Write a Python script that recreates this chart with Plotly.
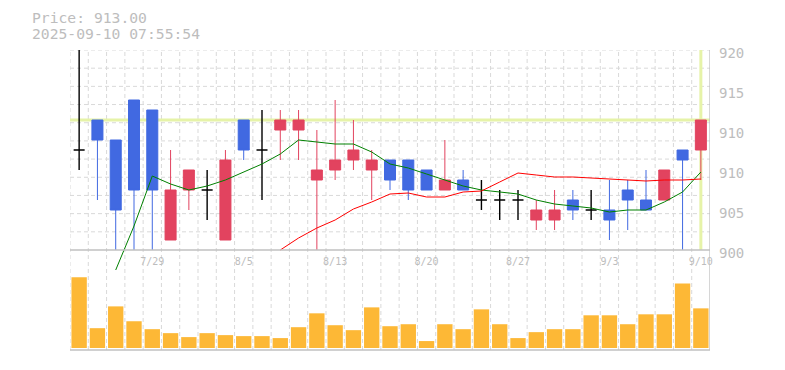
import plotly.graph_objects as go

# ---------------- data ----------------
dates = ["7/23", "7/24", "7/25", "7/28", "7/29", "7/30", "7/31", "8/1", "8/4", "8/5",
         "8/6", "8/7", "8/8", "8/12", "8/13", "8/14", "8/15", "8/18", "8/19", "8/20",
         "8/21", "8/22", "8/25", "8/26", "8/27", "8/28", "8/29", "9/1", "9/2", "9/3",
         "9/4", "9/5", "9/8", "9/9", "9/10"]
open_ = [910, 913, 911, 915, 914, 901, 906, 906, 901, 913,
         910, 912, 912, 907, 908, 909, 908, 909, 909, 908,
         906, 907, 905, 905, 905, 903, 903, 905, 904, 904,
         906, 905, 905, 910, 910]
high = [920, 913, 911, 915, 914, 910, 908, 908, 910, 913,
        914, 914, 914, 912, 915, 913, 910, 909, 909, 908,
        911, 908, 907, 906, 906, 905, 906, 906, 906, 907,
        907, 908, 908, 910, 913]
low = [908, 905, 900, 900, 900, 901, 904, 903, 901, 909,
       905, 909, 909, 900, 907, 908, 905, 906, 905, 906,
       906, 906, 904, 903, 903, 902, 902, 903, 903, 901,
       902, 904, 905, 900, 907]
close = [910, 911, 904, 906, 906, 906, 908, 906, 909, 910,
         910, 913, 913, 908, 909, 910, 909, 907, 906, 906,
         907, 906, 905, 905, 905, 904, 904, 904, 904, 903,
         905, 904, 908, 909, 913]
ma_short = [None, None, 898.0, 902.4, 907.4, 906.6, 906.0, 906.4, 907.0, 907.8,
            908.6, 909.6, 911.0, 910.8, 910.6, 910.6, 909.8, 908.6, 908.2, 907.6,
            907.0, 906.4, 906.0, 905.8, 905.6, 905.0, 904.6, 904.4, 904.2, 903.8,
            904.0, 904.0, 904.8, 905.8, 907.8]
ma_long = [None, None, None, None, None, None, None, None, None, None,
           None, 900.0, 901.2, 902.2, 903.0, 904.1, 904.8, 905.6, 905.7, 905.3,
           905.3, 905.8, 905.9, 906.8, 907.7, 907.5, 907.3, 907.3, 907.2, 907.1,
           907.0, 906.9, 907.0, 907.0, 907.1]
volume = [214, 60, 126, 81, 57, 45, 33, 45, 39, 36,
          36, 30, 63, 105, 69, 54, 123, 66, 72, 21,
          72, 57, 117, 72, 30, 48, 57, 57, 99, 99,
          72, 102, 102, 195, 120]
ytick_vals = [920, 916, 912, 908, 904, 900]
ytick_text = ["920", "915", "910", "910", "905", "900"]
xtick_labels = ["7/29", "8/5", "8/13", "8/20", "8/27", "9/3", "9/10"]
last_price = 913.00
timestamp = "2025-09-10 07:55:54"

# ---------------- styles ----------------
UP = "#e2435f"
DOWN = "#4169e1"
VOL = "#fdb836"
GRID = "#d9d9d9"
AXIS = "#c0c0c0"
TXT = "#bdbdbd"
HILITE = "#e6f3a8"
FONT = "DejaVu Sans Mono"

P_MIN, P_MAX = 900, 920
P_LOW = 897.5           # room below the axis where the MA lines still show
N_HGRID = 11

idx = list(range(len(dates)))
doji = [i for i in idx if open_[i] == close[i]]
body = [i for i in idx if open_[i] != close[i]]


def pick(arr, ids):
    return [arr[i] for i in ids]


fig = go.Figure()
fig.add_trace(go.Candlestick(
    x=body, open=pick(open_, body), high=pick(high, body), low=pick(low, body), close=pick(close, body),
    increasing=dict(line=dict(color=UP, width=1), fillcolor=UP),
    decreasing=dict(line=dict(color=DOWN, width=1), fillcolor=DOWN),
    whiskerwidth=0, hoverinfo="skip", xaxis="x", yaxis="y"))
fig.add_trace(go.Candlestick(
    x=doji, open=pick(open_, doji), high=pick(high, doji), low=pick(low, doji), close=pick(close, doji),
    increasing=dict(line=dict(color="black", width=1.4), fillcolor="black"),
    decreasing=dict(line=dict(color="black", width=1.4), fillcolor="black"),
    whiskerwidth=0, hoverinfo="skip", xaxis="x", yaxis="y"))
fig.add_trace(go.Scatter(x=idx, y=ma_short, mode="lines", line=dict(color="#008000", width=1),
                         hoverinfo="skip", xaxis="x", yaxis="y"))
fig.add_trace(go.Scatter(x=idx, y=ma_long, mode="lines", line=dict(color="#ff0000", width=1),
                         hoverinfo="skip", xaxis="x", yaxis="y"))
fig.add_trace(go.Bar(x=idx, y=volume, marker=dict(color=VOL, line=dict(width=0)),
                     hoverinfo="skip", xaxis="x2", yaxis="y2"))

shapes = []
n = len(dates)
# horizontal dashed grid (price panel)
for j in range(1, N_HGRID + 1):
    yv = P_MIN + j * (P_MAX - P_MIN) / N_HGRID
    shapes.append(dict(type="line", xref="x", yref="y", x0=-0.5, x1=n - 0.5, y0=yv, y1=yv,
                       line=dict(color=GRID, width=1, dash="4px,3px"), layer="below"))
# vertical dashed grid at slot boundaries (both panels)
for k in range(n):
    shapes.append(dict(type="line", xref="x", yref="paper", x0=k - 0.5, x1=k - 0.5, y0=0, y1=1,
                       line=dict(color=GRID, width=1, dash="4px,3px"), layer="below"))
# highlight lines for last price / last bar
shapes.append(dict(type="line", xref="x", yref="y", x0=-0.5, x1=n - 0.5, y0=last_price, y1=last_price,
                   line=dict(color=HILITE, width=3), layer="below"))
shapes.append(dict(type="line", xref="x", yref="y", x0=n - 1, x1=n - 1, y0=P_MIN, y1=P_MAX,
                   line=dict(color=HILITE, width=3), layer="below"))
# solid axis lines
shapes.append(dict(type="line", xref="x", yref="y", x0=-0.5, x1=n - 0.5, y0=P_MIN, y1=P_MIN,
                   line=dict(color=AXIS, width=1.3)))
shapes.append(dict(type="line", xref="x", yref="paper", x0=-0.5, x1=n - 0.5, y0=0, y1=0,
                   line=dict(color=AXIS, width=1.3)))
shapes.append(dict(type="line", xref="x", yref="paper", x0=n - 0.5, x1=n - 0.5, y0=0, y1=1,
                   line=dict(color=AXIS, width=1.3)))

annotations = [
    dict(text=f"Price: {last_price:.2f}", xref="paper", yref="paper", x=-0.0625, y=1.107,
         xanchor="left", yanchor="middle", showarrow=False, font=dict(family=FONT, size=14.7, color=TXT)),
    dict(text=timestamp, xref="paper", yref="paper", x=-0.0625, y=1.056,
         xanchor="left", yanchor="middle", showarrow=False, font=dict(family=FONT, size=14.7, color=TXT)),
]

fig.update_layout(
    width=785, height=370,
    margin=dict(l=70, r=75, t=50, b=20),
    paper_bgcolor="white", plot_bgcolor="white",
    showlegend=False,
    bargap=0.16, boxgap=0.14,
    shapes=shapes, annotations=annotations,
    xaxis=dict(range=[-0.5, n - 0.5], domain=[0, 1], anchor="free", position=0.32,
               tickvals=[dates.index(d) for d in xtick_labels], ticktext=xtick_labels,
               tickfont=dict(family=FONT, size=10, color=TXT),
               showgrid=False, zeroline=False, showline=False, ticks="",
               rangeslider=dict(visible=False)),
    yaxis=dict(range=[P_LOW, P_MAX], domain=[0.25, 1], side="right",
               tickvals=[v - 0.33 for v in ytick_vals], ticktext=ytick_text,
               tickfont=dict(family=FONT, size=14, color=TXT),
               showgrid=False, zeroline=False, showline=False, ticks="", ticklabelstandoff=8),
    xaxis2=dict(range=[-0.5, n - 0.5], domain=[0, 1], anchor="y2", matches="x",
                showticklabels=False, showgrid=False, zeroline=False, showline=False, ticks=""),
    yaxis2=dict(range=[0, 221], domain=[2 / 300, 0.25], anchor="x2",
                showticklabels=False, showgrid=False, zeroline=False, showline=False, ticks=""),
)

fig.write_html("out.html")
